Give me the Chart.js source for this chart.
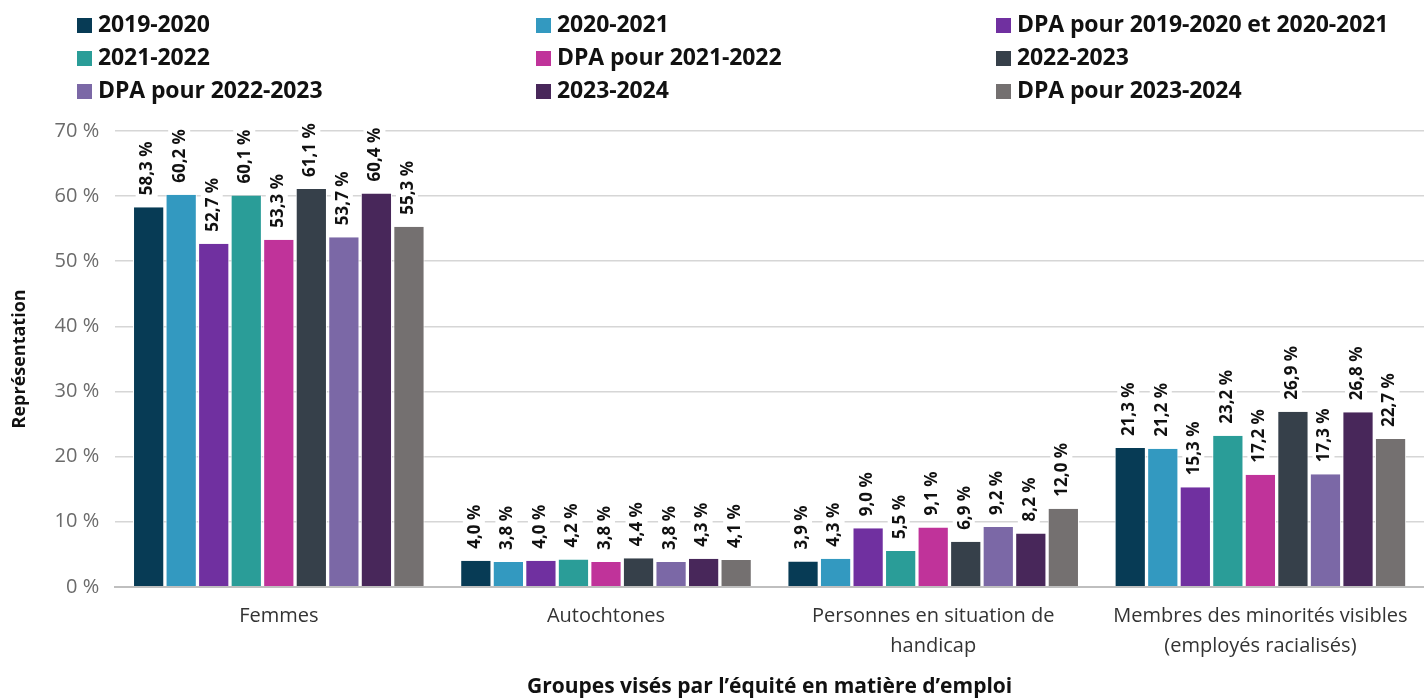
<!DOCTYPE html>
<html><head><meta charset="utf-8">
<script src="https://cdn.jsdelivr.net/npm/chart.js@4/dist/chart.umd.min.js"></script>
<style>
html,body{margin:0;padding:0;background:#fff;}
#wrap{position:relative;width:1424px;height:700px;}
#c{position:absolute;left:0;top:0;}
.lg{position:absolute;font-family:"Open Sans",sans-serif;font-weight:bold;font-size:23px;color:#111;white-space:nowrap;line-height:26px;letter-spacing:-0.1px;}
.lg span.sw{display:inline-block;width:15px;height:15px;margin-right:6px;vertical-align:-1px;}
</style></head><body>
<div id="wrap"><canvas id="c" width="1424" height="700"></canvas><div id="legend"></div></div>
<script>
const categories = [["Femmes"],["Autochtones"],["Personnes en situation de","handicap"],["Membres des minorités visibles","(employés racialisés)"]];
const seriesNames = ["2019-2020","2020-2021","DPA pour 2019-2020 et 2020-2021","2021-2022","DPA pour 2021-2022","2022-2023","DPA pour 2022-2023","2023-2024","DPA pour 2023-2024"];
const s2019_2020 = [58.3, 4.0, 3.9, 21.3];
const s2020_2021 = [60.2, 3.8, 4.3, 21.2];
const dpa2019_2021 = [52.7, 4.0, 9.0, 15.3];
const s2021_2022 = [60.1, 4.2, 5.5, 23.2];
const dpa2021_2022 = [53.3, 3.8, 9.1, 17.2];
const s2022_2023 = [61.1, 4.4, 6.9, 26.9];
const dpa2022_2023 = [53.7, 3.8, 9.2, 17.3];
const s2023_2024 = [60.4, 4.3, 8.2, 26.8];
const dpa2023_2024 = [55.3, 4.1, 12.0, 22.7];
const seriesValues = [s2019_2020,s2020_2021,dpa2019_2021,s2021_2022,dpa2021_2022,s2022_2023,dpa2022_2023,s2023_2024,dpa2023_2024];
const colors = ["#073b55","#3399c0","#7030a0","#2a9d98","#c0339a","#36404a","#7b68a6","#48275a","#747070"];
const yTicks = [0,10,20,30,40,50,60,70];

// legend (3 columns)
const legendCols = [77, 536, 996];
const legendRows = [10, 43, 76];
const lg = document.getElementById('legend');
seriesNames.forEach((n,i)=>{
  const d = document.createElement('div');
  d.className='lg';
  d.style.left = legendCols[i%3]+'px';
  d.style.top = legendRows[Math.floor(i/3)]+'px';
  d.innerHTML = '<span class="sw" style="background:'+colors[i]+'"></span>'+n;
  lg.appendChild(d);
});

const fmt = v => v.toFixed(1).replace('.', ',') + ' %';

const labelPlugin = {
  id:'vlabels',
  afterDatasetsDraw(chart){
    const ctx = chart.ctx;
    ctx.save();
    ctx.font = 'bold 17px "Open Sans", sans-serif';
    chart.data.datasets.forEach((ds,di)=>{
      const meta = chart.getDatasetMeta(di);
      meta.data.forEach((bar,j)=>{
        const txt = fmt(ds.data[j]);
        const w = ctx.measureText(txt).width;
        ctx.save();
        ctx.translate(bar.x - 2, bar.y - 12);
        ctx.rotate(-Math.PI/2);
        ctx.fillStyle = '#fff';
        ctx.fillRect(-4, -11, w+8, 22);
        ctx.fillStyle = '#111';
        ctx.textAlign = 'left';
        ctx.textBaseline = 'middle';
        ctx.fillText(txt, 0, 1);
        ctx.restore();
      });
    });
    ctx.restore();
  }
};

new Chart(document.getElementById('c'), {
  type:'bar',
  data:{
    labels: categories,
    datasets: seriesValues.map((vals,i)=>({
      label: seriesNames[i], data: vals, backgroundColor: colors[i],
      borderColor:'#ffffff', borderWidth:{left:1,right:1,top:0,bottom:0}, borderSkipped:false,
      barPercentage:0.96, categoryPercentage:0.895
    }))
  },
  options:{
    responsive:false, animation:false,
    layout:{padding:{top:131,right:0,left:5,bottom:0}},
    plugins:{legend:{display:false}, tooltip:{enabled:false}},
    scales:{
      x:{
        grid:{display:false},
        border:{display:true,color:'#bfbfbf',width:2},
        ticks:{color:'#333',font:{family:'"Open Sans", sans-serif',size:20,lineHeight:1.5},padding:6},
        title:{display:true,text:"Groupes visés par l’équité en matière d’emploi",color:'#111',font:{family:'"Open Sans", sans-serif',size:21,weight:'bold'},padding:{top:8,bottom:0}}
      },
      y:{
        min:0,max:70,
        afterBuildTicks(axis){ axis.ticks = yTicks.map(v=>({value:v})); },
        grid:{color:'#d6d6d6',lineWidth:1.5,drawTicks:false},
        border:{display:false},
        ticks:{color:'#6b6b6b',font:{family:'"Open Sans", sans-serif',size:20},padding:16,callback:v=>v+' %'},
        title:{display:true,text:'Représentation',color:'#111',font:{family:'"Open Sans", sans-serif',size:18,weight:'bold'},padding:{top:4,bottom:8}}
      }
    }
  },
  plugins:[labelPlugin]
});
</script>
</body></html>
